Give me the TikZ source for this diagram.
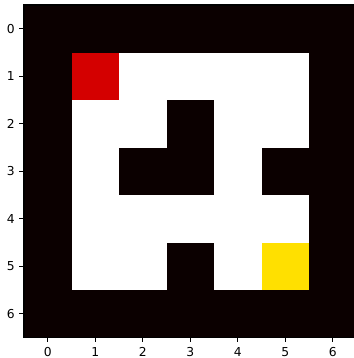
\documentclass[tikz,border=0pt]{standalone}
\usepackage{fontspec}
\setmainfont{DejaVu Sans}
\definecolor{wall}{HTML}{0B0000}
\definecolor{startred}{HTML}{D40000}
\definecolor{goalyellow}{HTML}{FFE000}
\tikzset{
  cell/.style     = {draw=none},
  spine/.style    = {line width=0.6pt, black},
  tick/.style     = {line width=0.6pt, black},
  ticklbl/.style  = {font=\fontsize{7}{8}\selectfont, inner sep=0pt},
}

\begin{document}
\begin{tikzpicture}[x=0.95cm,y=-0.95cm]
  \useasboundingbox (-1.0053,-0.6053) rectangle (6.4474,6.9316);
  % maze background (walls)
  \fill[wall] (-0.5,-0.5) rectangle (6.5,6.5);
  % open cells, row/column
  \foreach \r/\c in {1/2,1/3,1/4,1/5, 2/1,2/2,2/4,2/5, 3/1,3/4,
                     4/1,4/2,4/3,4/4,4/5, 5/1,5/2,5/4}
    \fill[white] (\c-0.5,\r-0.5) rectangle ++(1,1);
  % start and goal
  \fill[startred] (0.5,0.5) rectangle ++(1,1);
  \fill[goalyellow] (4.5,4.5) rectangle ++(1,1);
  % axes frame
  \draw[spine] (-0.5,-0.5) rectangle (6.5,6.5);
  % ticks and labels
  \foreach \i in {0,...,6}{
    \coordinate (xt\i) at (\i,6.5);
    \coordinate (yt\i) at (-0.5,\i);
    \draw[tick] (xt\i) -- ++(0,0.1);
    \draw[tick] (yt\i) -- ++(-0.1,0);
    \node[ticklbl, anchor=north] (xl\i) at ([yshift=-0.2cm]xt\i) {\i};
    \node[ticklbl, anchor=east] (yl\i) at ([xshift=-0.18cm]yt\i) {\i};
  }
\end{tikzpicture}
\end{document}
